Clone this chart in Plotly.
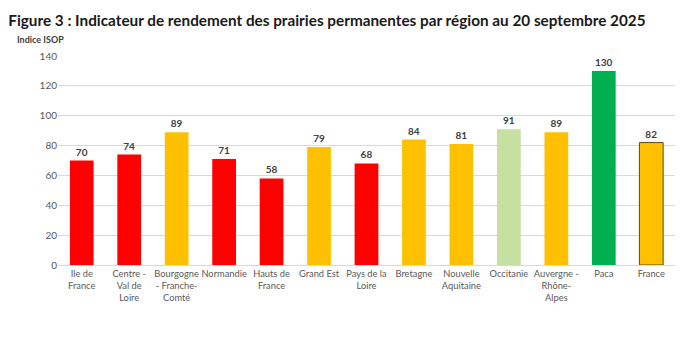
import plotly.graph_objects as go

regions = ["Ile de<br>France", "Centre -<br>Val de<br>Loire", "Bourgogne<br>- Franche-<br>Comté",
           "Normandie", "Hauts de<br>France", "Grand Est", "Pays de la<br>Loire", "Bretagne",
           "Nouvelle<br>Aquitaine", "Occitanie", "Auvergne -<br>Rhône-<br>Alpes", "Paca", "France"]
isop = [70, 74, 89, 71, 58, 79, 68, 84, 81, 91, 89, 130, 82]
colors = ["#FF0000", "#FF0000", "#FFC000", "#FF0000", "#FF0000", "#FFC000", "#FF0000",
          "#FFC000", "#FFC000", "#C5E0A0", "#FFC000", "#00B050", "#FFC000"]
outline = ["rgba(0,0,0,0)"] * 12 + ["#5A4A1A"]
y_ticks = [0, 20, 40, 60, 80, 100, 120, 140]

font = "Lato, 'Open Sans', sans-serif"

fig = go.Figure(go.Bar(
    x=regions, y=isop,
    marker=dict(color=colors, line=dict(color=outline, width=1)),
    width=0.5,
    text=[str(v) for v in isop], textposition="outside",
    textfont=dict(size=10, color="#404040", family=font, weight="bold"),
    cliponaxis=False,
))

fig.update_layout(
    width=690, height=343,
    margin=dict(l=58, r=15, t=56, b=78),
    paper_bgcolor="white", plot_bgcolor="white",
    font=dict(family=font, color="#595959", size=10),
    showlegend=False,
    bargap=0.5,
    title=dict(text="Figure 3 : Indicateur de rendement des prairies permanentes par région au 20 septembre 2025",
               x=0.012, xanchor="left", y=0.94, yanchor="middle",
               font=dict(size=15.3, color="#1a1a1a", family=font, weight="bold")),
    annotations=[dict(text="Indice ISOP", xref="paper", yref="paper", x=-0.07, y=1.077,
                      xanchor="left", yanchor="middle", showarrow=False,
                      font=dict(size=9, color="#404040", family=font, weight="bold"))],
)
fig.update_yaxes(range=[0, 140], tickvals=y_ticks, showgrid=True, gridcolor="#D9D9D9",
                 zeroline=False, ticks="", tickfont=dict(size=10, color="#595959"))
fig.update_xaxes(showline=True, linecolor="#D9D9D9", ticks="", tickangle=0,
                 tickfont=dict(size=9.3, color="#595959"))

fig.write_html("out.html")
